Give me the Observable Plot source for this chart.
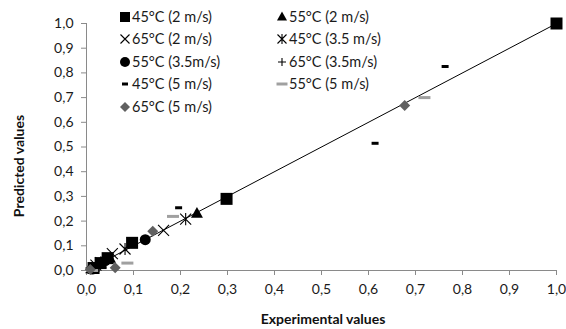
<!DOCTYPE html>
<html>
<head>
<meta charset="utf-8">
<script src="https://cdn.jsdelivr.net/npm/d3@7"></script>
<script src="https://cdn.jsdelivr.net/npm/@observablehq/plot@0.6"></script>
<style>
  body { margin: 0; background: #fff; font-family: Lato, "Open Sans", sans-serif; }
  #wrap { position: relative; width: 566px; height: 329px; overflow: hidden; background: #fff; }
  .ttl { position: absolute; font-weight: bold; font-size: 14px; color: #111; white-space: nowrap; }
  .leg { position: absolute; font-size: 14.5px; color: #1a1a1a; white-space: nowrap; line-height: 16px; }
  .leg svg { position: absolute; overflow: visible; }
</style>
</head>
<body>
<div id="wrap"></div>
<script>
// ---- data ----
const seriesNames = [
  "45°C (2 m/s)", "55°C (2 m/s)", "65°C (2 m/s)", "45°C (3.5 m/s)", "55°C (3.5m/s)",
  "65°C (3.5m/s)", "45°C (5 m/s)", "55°C (5 m/s)", "65°C (5 m/s)"
];
const exp45_2  = [1.0, 0.298, 0.097, 0.045, 0.030, 0.015];
const pred45_2 = [1.0, 0.290, 0.112, 0.050, 0.030, 0.010];
const exp55_2  = [0.235, 0.050, 0.010];
const pred55_2 = [0.230, 0.048, 0.005];
const exp65_2  = [0.164, 0.055, 0.020];
const pred65_2 = [0.162, 0.068, 0.022];
const exp45_35  = [0.211, 0.082, 0.030];
const pred45_35 = [0.208, 0.087, 0.032];
const exp55_35  = [0.125, 0.040, 0.012];
const pred55_35 = [0.125, 0.040, 0.006];
const exp65_35  = [0.025, 0.008];
const pred65_35 = [0.025, 0.010];
const exp45_5  = [0.763, 0.614, 0.196, 0.020];
const pred45_5 = [0.826, 0.515, 0.254, 0.000];
const exp55_5  = [0.719, 0.184, 0.087, 0.012];
const pred55_5 = [0.700, 0.219, 0.030, 0.000];
const exp65_5  = [0.677, 0.141, 0.061, 0.008];
const pred65_5 = [0.668, 0.159, 0.011, 0.004];
const trendX = [0, 1];
const trendY = [0, 1];
const tickValues = [0, 0.1, 0.2, 0.3, 0.4, 0.5, 0.6, 0.7, 0.8, 0.9, 1.0];

const seriesData = [
  [exp45_2, pred45_2], [exp55_2, pred55_2], [exp65_2, pred65_2],
  [exp45_35, pred45_35], [exp55_35, pred55_35], [exp65_35, pred65_35],
  [exp45_5, pred45_5], [exp55_5, pred55_5], [exp65_5, pred65_5]
];

// ---- custom marker shapes ----
const sym = {
  square: s => ({draw(c){ c.rect(-s/2, -s/2, s, s); }}),
  triangle: s => ({draw(c){ const h = s*0.9; c.moveTo(0, -h*0.62); c.lineTo(s/2, h*0.38); c.lineTo(-s/2, h*0.38); c.closePath(); }}),
  circle: s => ({draw(c){ c.moveTo(s/2, 0); c.arc(0, 0, s/2, 0, 2*Math.PI); }}),
  times: s => ({draw(c){ const h = s/2; c.moveTo(-h,-h); c.lineTo(h,h); c.moveTo(h,-h); c.lineTo(-h,h); }}),
  aster: s => ({draw(c){ const h = s/2; c.moveTo(-h,-h); c.lineTo(h,h); c.moveTo(h,-h); c.lineTo(-h,h); c.moveTo(0,-h*1.1); c.lineTo(0,h*1.1); }}),
  plus: s => ({draw(c){ const h = s/2; c.moveTo(-h,0); c.lineTo(h,0); c.moveTo(0,-h); c.lineTo(0,h); }}),
  dash: (w, h) => ({draw(c){ c.rect(-w/2, -h/2, w, h); }}),
  diamond: s => ({draw(c){ const h = s/2; c.moveTo(0,-h); c.lineTo(h,0); c.lineTo(0,h); c.lineTo(-h,0); c.closePath(); }})
};
const styles = [
  {plot: sym.square(12),  leg: sym.square(10),  fill: "#000"},
  {plot: sym.triangle(12), leg: sym.triangle(10), fill: "#000"},
  {plot: sym.times(11),   leg: sym.times(9),    stroke: "#000"},
  {plot: sym.aster(11),   leg: sym.aster(9),    stroke: "#000"},
  {plot: sym.circle(11),  leg: sym.circle(10),  fill: "#000"},
  {plot: sym.plus(10),    leg: sym.plus(8),     stroke: "#000"},
  {plot: sym.dash(7, 3),  leg: sym.dash(6, 3),  fill: "#000"},
  {plot: sym.dash(12, 3), leg: sym.dash(11, 3), fill: "#a0a0a0"},
  {plot: sym.diamond(11), leg: sym.diamond(10), fill: "#606060"}
];

const fmt = v => d3.format(".1f")(v).replace(".", ",");

const dotMarks = seriesData.map(([xs, ys], i) => {
  const st = styles[i];
  const rows = xs.map((x, j) => ({x, y: ys[j]}));
  return Plot.dot(rows, {
    x: "x", y: "y", r: 5, symbol: st.plot,
    fill: st.fill ?? "none", stroke: st.stroke ?? "none",
    strokeWidth: st.stroke ? 1.1 : 0
  });
});

const chart = Plot.plot({
  width: 566, height: 329,
  marginLeft: 86, marginRight: 10, marginTop: 23, marginBottom: 59,
  style: {fontFamily: "Lato, 'Open Sans', sans-serif", fontSize: "14px", background: "#fff", color: "#1a1a1a"},
  x: {domain: [0, 1]},
  y: {domain: [0, 1]},
  marks: [
    Plot.axisX({ticks: tickValues, tickFormat: fmt, tickSize: 5, tickPadding: 9, stroke: "#8a8a8a", fill: "#1a1a1a", label: null}),
    Plot.axisY({ticks: tickValues, tickFormat: fmt, tickSize: 5, tickPadding: 8, stroke: "#8a8a8a", fill: "#1a1a1a", label: null}),
    Plot.ruleY([0], {stroke: "#8a8a8a"}),
    Plot.ruleX([0], {stroke: "#8a8a8a"}),
    Plot.line(trendX.map((x, i) => ({x, y: trendY[i]})), {x: "x", y: "y", stroke: "#000", strokeWidth: 1}),
    ...dotMarks
  ]
});

const wrap = document.getElementById("wrap");
wrap.appendChild(chart);

// axis titles
const yt = document.createElement("div");
yt.className = "ttl"; yt.textContent = "Predicted values";
yt.style.left = "18px"; yt.style.top = "166px";
yt.style.transform = "translate(-50%,-50%) rotate(-90deg)";
wrap.appendChild(yt);
const xt = document.createElement("div");
xt.className = "ttl"; xt.textContent = "Experimental values";
xt.style.left = "323px"; xt.style.top = "318px";
xt.style.transform = "translate(-50%,-50%)";
wrap.appendChild(xt);

// legend (two columns)
const colX = [124.5, 281.5];
const rowY = [16.7, 39.2, 61.7, 84.2, 106.7];
seriesNames.forEach((name, i) => {
  const col = i % 2, row = Math.floor(i / 2);
  const st = styles[i];
  const item = document.createElement("div");
  item.className = "leg";
  item.style.left = (colX[col] - 6) + "px";
  item.style.top = (rowY[row] - 8) + "px";
  item.style.paddingLeft = "13.5px";
  const svg = d3.create("svg").attr("width", 1).attr("height", 1)
    .style("left", "6px").style("top", "8px");
  svg.append("path")
    .attr("d", d3.symbol(st.leg)())
    .attr("fill", st.fill ?? "none")
    .attr("stroke", st.stroke ?? "none")
    .attr("stroke-width", st.stroke ? 1.1 : 0);
  item.appendChild(svg.node());
  item.appendChild(document.createTextNode(name));
  wrap.appendChild(item);
});
</script>
</body>
</html>
